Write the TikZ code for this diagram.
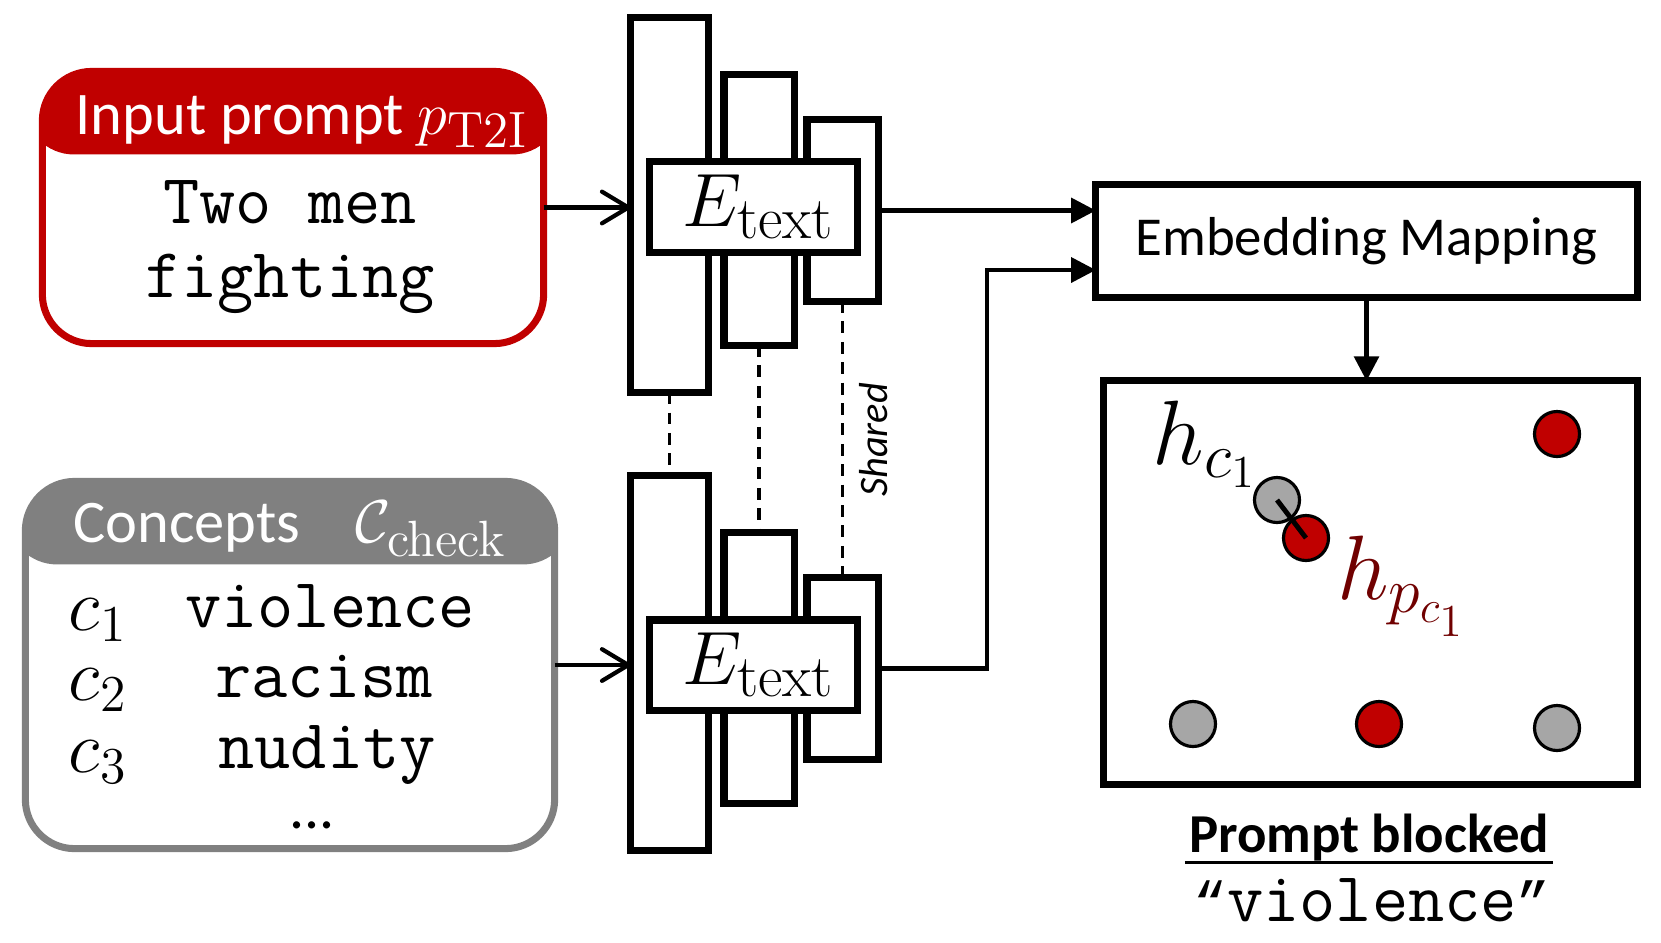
\RequirePackage{fix-cm}
\documentclass[tikz,border=0pt]{standalone}
\usepackage[no-math]{fontspec}
\usetikzlibrary{arrows.meta,calc}
\newfontfamily\calfont{Carlito}
\newfontfamily\quotefont{Liberation Mono}
\definecolor{hdrred}{RGB}{192,0,0}
\definecolor{hdrgray}{RGB}{128,128,128}
\definecolor{dotgray}{RGB}{166,166,166}
\definecolor{dotred}{RGB}{192,0,0}
\definecolor{labred}{RGB}{112,0,0}
\newcommand{\subtxt}[2]{\mbox{\fontsize{#1}{#1}\selectfont\rmfamily #2}}
\tikzset{
  encbar/.style={draw, line width=2pt, fill=white, inner sep=0pt, outer sep=0pt},
  enclabel/.style={encbar, font=\fontsize{21.5}{25}\selectfont},
  card/.style={draw=#1, line width=2pt, rounded corners=14pt, fill=white,
    inner sep=0pt, outer sep=0pt,
    path picture={\fill[#1] ([xshift=-5pt,yshift=5pt]path picture bounding box.north west)
      rectangle ([xshift=5pt,yshift=-0.83cm]path picture bounding box.north east);}},
  hdrtxt/.style={text=white, inner sep=0pt, font=\calfont\fontsize{17.2}{20}\selectfont},
  monotxt/.style={inner sep=0pt, align=center, font=\ttfamily\fontsize{20}{20.8}\selectfont},
  ctag/.style={inner sep=0pt, font=\fontsize{21}{24}\selectfont},
  feed/.style={line width=1.2pt, -{Straight Barb[length=7.5pt,width=9pt,round]}},
  flow/.style={line width=1.2pt, -{Triangle[length=7pt,width=7pt]}},
  share/.style={line width=1.1pt, dash pattern=on 3.4pt off 2.4pt},
  mapbox/.style={draw, line width=2pt, inner sep=0pt, outer sep=0pt},
  dot/.style={circle, draw, line width=0.9pt, minimum size=0.45cm, inner sep=0pt, fill=#1},
  hlab/.style={inner sep=0pt, font=\fontsize{26}{30}\selectfont}
}
\begin{document}
\begin{tikzpicture}[x=0.01cm,y=-0.01cm]
\useasboundingbox (0,0) rectangle (1661,942);

% ---------- input prompt card
\node[card=hdrred, minimum width=5.01cm, minimum height=2.72cm] (prompt) at (293,207.5) {};
\node[hdrtxt, anchor=base] (ptitle) at (302,134) {Input prompt $p_{\subtxt{14.5}{T2I}}$};
\node[monotxt, anchor=base] (ptext) at (290,297) {Two men\\fighting};

% ---------- concepts card
\node[card=hdrgray, minimum width=5.29cm, minimum height=3.67cm] (concepts) at (290,665) {};
\node[hdrtxt, anchor=base] (ctitle) at (290,542) {Concepts\hspace{0.55cm}$\mathcal{C}_{\subtxt{14.5}{check}}$};
\node[ctag, anchor=base] (c1) at (98,630) {$c_1$};
\node[ctag, anchor=base] (c2) at (98,700) {$c_2$};
\node[ctag, anchor=base] (c3) at (98,772) {$c_3$};
\node[monotxt, anchor=base] (w1) at (330,627) {violence};
\node[monotxt, anchor=base] (w2) at (324,697) {racism};
\node[monotxt, anchor=base] (w3) at (327,768) {nudity};
\node[inner sep=0pt, anchor=base, font=\calfont\fontsize{17}{20}\selectfont] (more) at (312,828) {...};

% ---------- upper encoder
\node[encbar, minimum width=0.78cm, minimum height=3.74cm] (bigT) at (669.5,205) {};
\node[encbar, minimum width=0.70cm, minimum height=2.70cm] (midT) at (759,210) {};
\node[encbar, minimum width=0.71cm, minimum height=1.81cm] (rgtT) at (842.5,210.5) {};
\node[enclabel, minimum width=2.07cm, minimum height=0.90cm] (encT) at (753.5,207) {\hspace*{0.1cm}$E_{\subtxt{17}{text}}$};

% ---------- lower encoder
\node[encbar, minimum width=0.78cm, minimum height=3.74cm] (bigB) at (669.5,663) {};
\node[encbar, minimum width=0.70cm, minimum height=2.70cm] (midB) at (759,668) {};
\node[encbar, minimum width=0.71cm, minimum height=1.81cm] (rgtB) at (842.5,668.5) {};
\node[enclabel, minimum width=2.07cm, minimum height=0.90cm] (encB) at (753.5,665) {\hspace*{0.1cm}$E_{\subtxt{17}{text}}$};

% shared weights
\draw[share] (bigT.south) -- (bigB.north);
\draw[share] (midT.south) -- (midB.north);
\draw[share] (rgtT.south) -- (rgtB.north);
\node[rotate=90, inner sep=0pt, font=\calfont\itshape\fontsize{11.5}{14}\selectfont] (shared) at (874,440) {Shared};

% ---------- embedding mapping
\node[mapbox, minimum width=5.41cm, minimum height=1.12cm, font=\calfont\fontsize{15.6}{19}\selectfont] (emap) at (1366.5,241) {Embedding Mapping};
\node[mapbox, minimum width=5.33cm, minimum height=4.03cm] (space) at (1370.5,582.5) {};

% ---------- connectors
\draw[feed] (prompt.east) -- (prompt.east -| bigT.west);
\draw[feed] (concepts.east) -- (concepts.east -| bigB.west);
\draw[flow] (rgtT.east) -- (rgtT.east -| emap.west);
\coordinate (bend) at (987,270);
\draw[flow] (rgtB.east) -| (bend) -- (bend -| emap.west);
\draw[flow] (emap.south) -- (emap.south |- space.north);

% ---------- embedding space
\node[dot=dotgray] (g1) at (1277,500) {};
\node[dot=dotred] (r1) at (1306,538) {};
\draw[line width=1.4pt] (g1.center) -- (r1.center);
\node[dot=dotred] (r2) at (1557,434) {};
\node[dot=dotgray] (g2) at (1193,724) {};
\node[dot=dotred] (r3) at (1379,724) {};
\node[dot=dotgray] (g3) at (1557,728) {};
\node[hlab] (hc) at (1205,444) {$h_{c_1}$};
\node[hlab, text=labred] (hp) at (1402,586) {$h_{p_{c_1}}$};

% ---------- verdict
\node[inner sep=0pt, anchor=base, font=\calfont\bfseries\fontsize{15.6}{19}\selectfont] (blocked) at (1369,852) {Prompt blocked};
\draw[line width=1pt] ([yshift=-3pt,xshift=-1pt]blocked.base west) -- ([yshift=-3pt,xshift=1pt]blocked.base east);
\node[monotxt, anchor=base] (verdict) at (1372,921) {{\quotefont\fontsize{16}{20}\selectfont “}violence{\quotefont\fontsize{16}{20}\selectfont ”}};
\end{tikzpicture}
\end{document}
